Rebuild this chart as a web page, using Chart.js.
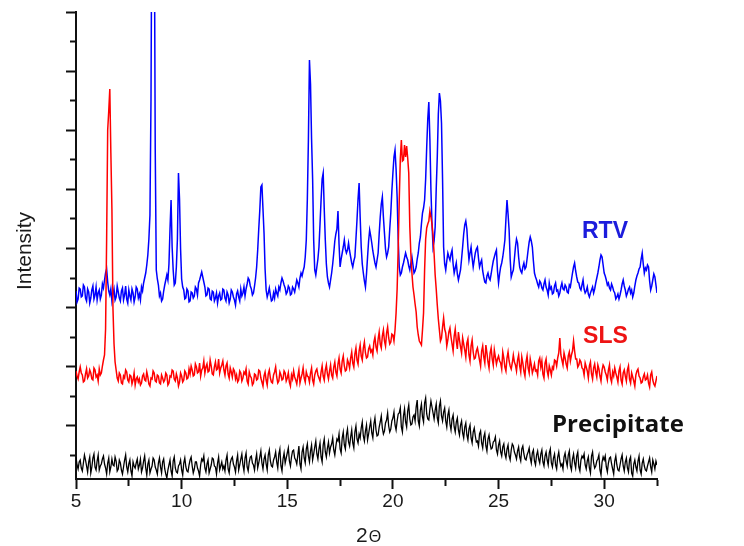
<!DOCTYPE html>
<html>
<head>
<meta charset="utf-8">
<title>XRD patterns</title>
<script src="https://cdn.jsdelivr.net/npm/chart.js@4.4.1/dist/chart.umd.min.js"></script>
<style>
  html, body { margin: 0; padding: 0; background: #fff; }
  #wrap { width: 744px; height: 546px; }
</style>
</head>
<body>
<div id="wrap"><canvas id="xrd" width="744" height="546"></canvas></div>
<script>
// 2-theta scan, 5 to 32.5 deg, 0.05 deg per step (20 steps per row below)
const scanStart = 5;
const scanStep = 0.05;

// intensities are offset per pattern so the three traces stack
const rtv = [
  188,177,180,191,190,182,183,194,192,181,178,190,187,176,181,189,193,180,184,192,
  179,186,189,180,184,195,191,199,206,210,197,188,184,190,178,185,190,179,182,193,
  187,181,178,188,191,179,184,193,180,176,189,183,179,190,186,177,182,192,190,181,
  185,179,192,188,196,201,206,214,224,240,264,380,620,700,600,330,209,200,194,183,
  186,178,180,188,194,199,204,199,215,250,279,232,209,194,196,212,240,306,280,230,
  200,192,189,180,181,190,188,177,178,187,186,181,183,192,190,184,196,199,203,207,
  202,197,192,183,184,191,190,180,179,188,187,178,181,186,176,183,186,179,180,190,
  189,181,178,187,184,176,180,189,187,182,179,174,185,188,182,178,190,183,186,192,
  183,190,195,201,199,193,190,184,186,193,201,212,229,250,269,292,294,270,246,210,
  189,182,186,191,184,178,179,186,181,190,186,183,192,189,196,201,198,194,191,185,
  187,193,191,184,185,192,190,187,193,199,196,192,201,206,203,208,212,222,239,280,
  339,419,395,340,300,239,209,204,212,220,232,255,279,300,306,270,239,215,202,196,
  192,199,206,215,226,238,245,250,268,235,212,220,226,232,239,230,226,229,236,228,
  222,216,212,218,222,240,259,280,296,262,232,215,206,198,192,205,222,238,249,243,
  236,228,222,216,212,219,226,245,262,275,282,262,246,230,222,226,232,250,266,288,
  306,322,329,310,282,240,212,204,206,212,216,221,226,222,219,213,209,216,222,214,
  206,208,212,220,226,236,242,255,266,271,279,300,332,360,377,340,289,255,232,238,
  252,290,322,365,386,378,356,300,232,215,209,218,226,222,219,225,229,215,206,211,
  216,205,199,204,209,220,232,245,254,258,250,232,219,226,232,221,212,219,226,230,
  232,221,212,216,219,208,202,197,196,203,206,201,199,205,212,218,222,226,229,208,
  196,205,212,216,222,230,239,260,279,265,249,220,202,206,209,220,232,240,236,222,
  212,208,206,212,216,210,212,220,229,237,242,238,232,218,206,202,199,195,192,198,
  196,191,189,195,199,192,189,184,196,190,192,185,186,193,196,188,189,183,186,192,
  196,190,189,194,192,187,186,194,192,199,206,212,216,208,202,197,196,191,189,194,
  199,190,186,188,192,185,182,186,189,192,186,190,196,201,206,212,219,224,222,214,
  206,203,199,194,196,191,189,195,192,188,186,180,182,185,180,184,189,195,199,193,
  189,183,186,190,192,186,189,182,186,193,199,203,206,210,212,220,226,215,206,211,
  209,214,212,198,189,193,199,205,202,194,186
];

const sls = [
  108,103,100,107,112,106,104,97,98,105,110,101,103,109,106,100,99,111,109,102,
  104,98,110,104,106,113,119,124,150,240,349,368,390,326,270,170,135,117,109,101,
  98,106,104,96,95,103,101,109,107,99,97,104,103,95,99,106,94,100,102,97,
  100,94,96,103,105,99,98,107,102,95,93,101,100,108,106,98,97,104,103,96,
  95,104,101,97,99,106,104,94,96,103,102,109,108,100,98,105,101,93,97,106,
  103,97,99,108,106,100,101,110,105,113,109,103,104,115,112,106,107,116,103,109,
  111,118,106,112,115,107,108,119,113,105,104,112,117,109,110,120,106,111,114,118,
  109,104,113,116,105,101,111,107,102,110,108,100,104,97,99,108,106,98,101,107,
  105,110,98,95,107,103,101,94,96,105,104,99,100,109,108,101,97,93,103,107,
  99,94,105,109,101,97,96,104,107,112,102,96,98,107,104,99,100,108,106,98,
  101,106,97,93,104,100,108,102,99,95,103,109,96,101,105,111,101,97,107,103,
  102,97,106,111,99,95,104,108,110,104,101,98,107,113,103,99,109,114,105,100,
  108,114,104,101,112,117,107,103,115,121,110,106,118,123,113,108,109,119,116,111,
  121,127,116,112,125,131,119,115,128,134,123,119,131,137,126,121,122,130,133,127,
  129,124,137,142,132,128,140,147,135,131,143,149,138,133,146,152,141,135,137,145,
  144,138,149,166,190,230,279,320,339,318,319,334,322,333,321,306,252,225,206,192,
  184,175,167,152,144,138,136,134,149,166,209,240,251,255,258,268,262,255,244,225,
  204,190,174,160,149,138,141,152,161,150,146,133,139,147,151,142,135,128,143,150,
  138,130,147,139,132,126,141,135,129,122,136,140,124,118,133,139,127,120,121,128,
  131,125,119,113,128,133,122,116,134,126,117,111,126,131,120,114,129,122,115,120,
  123,118,116,110,127,121,112,108,121,127,118,113,110,116,124,117,114,108,119,124,
  113,107,122,116,108,103,117,123,111,106,120,114,106,110,115,108,109,104,118,121,
  112,118,105,101,116,120,108,103,113,109,104,112,110,119,118,113,121,126,141,124,
  119,114,126,121,115,111,123,127,118,124,128,138,128,120,120,112,114,119,117,111,
  110,104,116,112,108,101,113,117,105,100,111,115,107,102,114,110,103,98,109,114,
  112,107,104,99,109,114,101,97,107,103,111,106,102,97,108,112,99,95,106,109,
  103,98,109,113,100,96,106,102,98,93,104,108,110,103,101,96,97,102,105,99,
  100,104,96,92,104,107,99,95,93,98,103
];

const precipitate = [
  22,14,10,17,19,11,8,16,24,19,13,7,17,22,6,12,21,25,12,9,
  18,24,9,13,15,20,23,15,11,5,16,21,7,12,20,14,13,22,18,8,
  10,19,16,9,5,12,19,24,12,7,15,19,8,3,17,13,11,16,20,10,
  14,20,7,11,18,23,11,4,15,19,6,10,13,21,19,12,9,5,16,21,
  12,6,17,20,10,5,1,9,14,19,8,3,18,22,11,7,6,13,15,19,
  9,4,16,21,12,8,7,14,19,22,13,6,10,17,17,11,8,3,14,20,
  18,23,11,7,15,19,6,10,14,21,20,13,12,5,16,22,9,13,17,10,
  13,8,19,24,10,6,16,20,22,15,12,7,18,24,9,14,20,25,14,8,
  21,26,12,8,17,22,23,16,14,9,19,25,11,16,22,28,16,10,20,24,
  15,9,24,29,18,13,12,19,22,27,17,11,25,30,13,8,20,26,16,21,
  26,31,18,13,22,28,29,21,19,15,24,33,15,10,27,32,21,16,30,35,
  23,17,28,34,19,25,32,38,25,20,30,36,22,17,34,40,27,22,31,37,
  26,32,35,41,29,24,33,40,38,45,30,26,41,47,34,30,44,50,37,33,
  42,49,36,31,47,53,40,36,45,41,51,57,43,38,48,54,39,45,52,58,
  46,41,55,61,49,43,44,52,57,63,51,45,48,56,59,66,53,47,50,58,
  61,67,54,49,58,65,66,71,52,47,63,70,57,52,68,74,60,54,55,62,
  64,58,72,79,58,53,69,75,62,57,76,81,65,60,59,70,78,72,66,60,
  69,75,61,56,73,78,63,58,67,71,58,52,64,69,55,49,60,64,52,47,
  57,61,49,44,54,58,46,41,52,56,44,39,50,54,41,36,47,51,43,37,
  38,33,45,48,36,31,42,46,33,28,40,44,35,30,31,37,38,42,29,25,
  34,38,27,23,32,35,25,21,30,34,23,19,29,35,33,27,24,20,28,32,
  22,18,30,33,25,20,19,24,27,31,21,16,26,29,18,14,24,28,20,16,
  25,29,17,13,23,27,19,14,26,30,16,12,21,25,14,10,22,27,18,13,
  15,10,22,26,18,13,24,28,13,9,20,25,16,11,23,27,12,8,19,23,
  21,25,14,10,18,22,11,6,23,27,16,11,13,18,20,24,9,4,17,22,
  19,23,12,7,16,21,22,15,10,5,18,23,14,9,8,14,20,24,13,8,
  17,21,11,7,19,22,6,3,15,19,12,8,18,23,9,5,16,20,13,9,
  8,13,17,21,12,7,19,15,10,18,14
];

const xMajorTicks = [5, 10, 15, 20, 25, 30];

const yMax = 467;
const yTickStep = 29.56;

const AXIS_COLOR = "#111";

function toPoints(values) {
  return values.map((v, i) => ({ x: +(scanStart + i * scanStep).toFixed(2), y: v }));
}

// every other tick on each axis is a short one
function isMajorY(value) {
  return Math.round((yMax - value) / yTickStep) % 2 === 0;
}

const patternLabels = {
  id: "patternLabels",
  afterDatasetsDraw(chart) {
    const { ctx, scales } = chart;
    const x = scales.x;
    const y = scales.y;
    ctx.save();
    ctx.textAlign = "left";
    ctx.textBaseline = "alphabetic";

    ctx.font = "bold 23px 'Liberation Sans', Arial, sans-serif";
    ctx.fillStyle = "#1c1cdc";
    ctx.fillText("RTV", x.getPixelForValue(28.95), y.getPixelForValue(241));
    ctx.fillStyle = "#ee1414";
    ctx.fillText("SLS", x.getPixelForValue(29.0), y.getPixelForValue(136));

    ctx.font = "bold 24px 'Open Sans', sans-serif";
    ctx.fillStyle = "#111";
    ctx.fillText("Precipitate", x.getPixelForValue(27.53), y.getPixelForValue(47.5));

    // axis titles
    ctx.fillStyle = "#1a1a1a";
    ctx.textBaseline = "middle";
    ctx.textAlign = "center";
    ctx.save();
    ctx.translate(25, 251);
    ctx.rotate(-Math.PI / 2);
    ctx.font = "21px 'Liberation Sans', Arial, sans-serif";
    ctx.fillText("Intensity", 0, 0);
    ctx.restore();

    ctx.textAlign = "left";
    ctx.font = "21px 'Liberation Sans', Arial, sans-serif";
    const w2 = ctx.measureText("2").width;
    ctx.fillText("2", 356, 536);
    ctx.font = "16px 'Liberation Sans', Arial, sans-serif";
    ctx.fillText("\u0398", 356 + w2 + 1, 538);
    ctx.restore();
  },
};

new Chart(document.getElementById("xrd"), {
  type: "line",
  data: {
    datasets: [
      {
        label: "SLS",
        data: toPoints(sls),
        borderColor: "#ff0000",
        borderWidth: 1.5,
        pointRadius: 0,
      },
      {
        label: "RTV",
        data: toPoints(rtv),
        borderColor: "#0000ff",
        borderWidth: 1.5,
        pointRadius: 0,
      },
      {
        label: "Precipitate",
        data: toPoints(precipitate),
        borderColor: "#000000",
        borderWidth: 1.3,
        pointRadius: 0,
      },
    ],
  },
  options: {
    responsive: false,
    animation: false,
    devicePixelRatio: 1,
    layout: {
      padding: { top: 12, right: 87, left: 0, bottom: 0 },
    },
    plugins: {
      legend: { display: false },
      tooltip: { enabled: false },
    },
    scales: {
      x: {
        type: "linear",
        min: 5,
        max: 32.5,
        afterFit: (scale) => {
          scale.height = 67;
        },
        ticks: {
          stepSize: 2.5,
          autoSkip: false,
          maxRotation: 0,
          padding: 1,
          color: "#1a1a1a",
          font: { family: "'Liberation Sans', Arial, sans-serif", size: 19 },
          callback: (value) => (xMajorTicks.includes(value) ? String(value) : ""),
        },
        grid: {
          drawOnChartArea: false,
          tickLength: 10,
          tickWidth: 2,
          tickColor: AXIS_COLOR,
          tickBorderDash: (ctx) =>
            ctx.tick && xMajorTicks.includes(ctx.tick.value) ? [] : [6, 30],
        },
        border: { color: AXIS_COLOR, width: 2 },
      },
      y: {
        min: 0,
        max: yMax,
        afterFit: (scale) => {
          scale.width = 76;
        },
        afterBuildTicks: (scale) => {
          const ticks = [];
          for (let k = 15; k >= 0; k--) {
            ticks.push({ value: yMax - k * yTickStep });
          }
          scale.ticks = ticks;
        },
        ticks: { display: false },
        grid: {
          drawOnChartArea: false,
          tickLength: 10,
          tickWidth: 2,
          tickColor: AXIS_COLOR,
          // left-axis ticks are stroked from the outer end, so the short
          // ones skip the first few pixels to stay attached to the axis
          tickBorderDash: (ctx) =>
            ctx.tick && isMajorY(ctx.tick.value) ? [] : [5, 30],
          tickBorderDashOffset: (ctx) =>
            ctx.tick && isMajorY(ctx.tick.value) ? 0 : 31,
        },
        border: { color: AXIS_COLOR, width: 2 },
      },
    },
  },
  plugins: [patternLabels],
});
</script>
</body>
</html>
